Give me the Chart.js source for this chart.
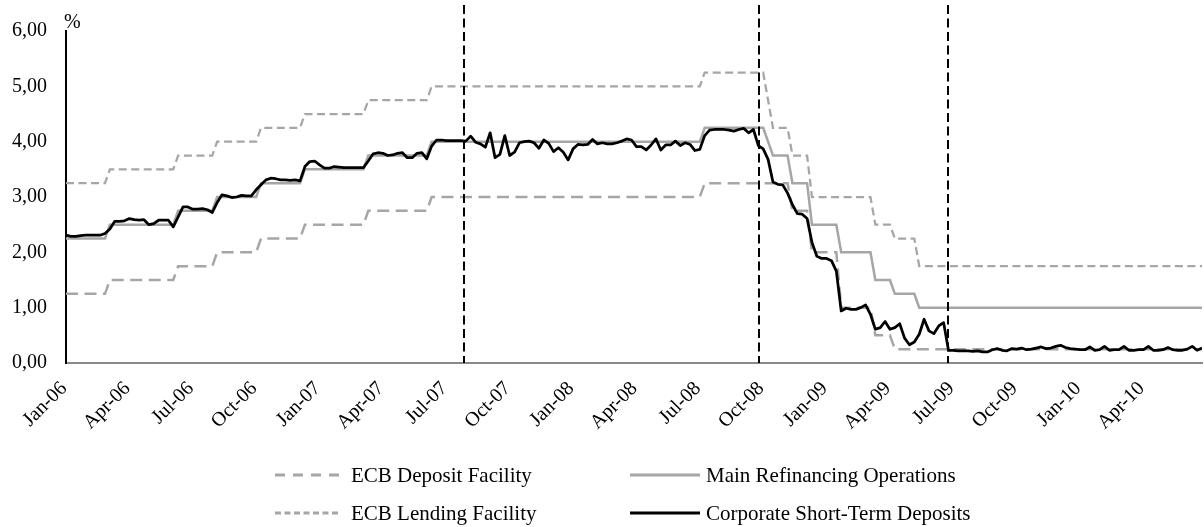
<!DOCTYPE html>
<html>
<head>
<meta charset="utf-8">
<script src="https://cdn.jsdelivr.net/npm/chart.js@4.4.1/dist/chart.umd.min.js"></script>
<style>
html,body{margin:0;padding:0;background:#fff;}
#wrap{position:relative;width:1204px;height:527px;overflow:hidden;}
#c{position:absolute;left:0;top:0;}
.lbl{position:absolute;font-family:"Liberation Serif","Times New Roman",serif;color:#000;white-space:nowrap;}
#legendSvg{position:absolute;left:0;top:440px;}
</style>
</head>
<body>
<div id="wrap">
  <canvas id="c" width="1204" height="527"></canvas>
  <div class="lbl" id="unit" style="left:64px;top:11px;font-size:20px;line-height:20px;">%</div>
  <svg id="legendSvg" width="1204" height="87"></svg>
  <div id="legendText"></div>
</div>
<script>
// ---------- DATA ----------
const tickLabels = ["Jan-06","Apr-06","Jul-06","Oct-06","Jan-07","Apr-07","Jul-07","Oct-07","Jan-08","Apr-08","Jul-08","Oct-08","Jan-09","Apr-09","Jul-09","Oct-09","Jan-10","Apr-10"];
const tickWeeks  = [0,13,26,39,52,65,78,91,104,117,130,143,156,169,182,195,208,221];
const yTicks = [0,1,2,3,4,5,6];

const seriesNames = ["ECB Deposit Facility","Main Refinancing Operations","ECB Lending Facility","Corporate Short-Term Deposits"];

// ECB Deposit Facility (week index of each vertex, rate)
const depositWeeks = [0,8,9,22,23,30,31,39,40,48,49,61,62,74,75,130,131,148,149,152,153,158,159,165,166,169,170,233];
const depositRates = [1.25,1.25,1.50,1.50,1.75,1.75,2.00,2.00,2.25,2.25,2.50,2.50,2.75,2.75,3.00,3.00,3.25,3.25,2.75,2.75,2.00,2.00,1.00,1.00,0.50,0.50,0.25,0.25];

// Main Refinancing Operations
const mroWeeks = [0,8,9,22,23,30,31,39,40,48,49,61,62,74,75,130,131,143,144,145,148,149,152,153,158,159,165,166,169,170,174,175,233];
const mroRates = [2.25,2.25,2.50,2.50,2.75,2.75,3.00,3.00,3.25,3.25,3.50,3.50,3.75,3.75,4.00,4.00,4.25,4.25,4.00,3.75,3.75,3.25,3.25,2.50,2.50,2.00,2.00,1.50,1.50,1.25,1.25,1.00,1.00];

// ECB Lending Facility
const lendingWeeks = [0,8,9,22,23,30,31,39,40,48,49,61,62,74,75,130,131,143,144,145,148,149,152,153,165,166,169,170,174,175,233];
const lendingRates = [3.25,3.25,3.50,3.50,3.75,3.75,4.00,4.00,4.25,4.25,4.50,4.50,4.75,4.75,5.00,5.00,5.25,5.25,4.75,4.25,4.25,3.75,3.75,3.00,3.00,2.50,2.50,2.25,2.25,1.75,1.75];

// Corporate Short-Term Deposits (weekly, from week 0 = first week of Jan-06)
const corporate = [
 2.31,2.29,2.29,2.30,2.31,2.31,2.31,2.31,2.34,2.42,
 2.56,2.56,2.57,2.61,2.59,2.58,2.59,2.50,2.52,2.58,
 2.58,2.58,2.46,2.64,2.82,2.82,2.78,2.78,2.79,2.77,
 2.72,2.90,3.04,3.02,2.99,3.00,3.03,3.02,3.02,3.13,
 3.22,3.31,3.34,3.33,3.31,3.31,3.30,3.31,3.29,3.55,
 3.64,3.65,3.58,3.52,3.52,3.55,3.54,3.53,3.53,3.53,
 3.53,3.53,3.65,3.78,3.80,3.79,3.75,3.76,3.79,3.80,
 3.71,3.71,3.79,3.80,3.69,3.92,4.03,4.03,4.02,4.02,
 4.02,4.02,4.01,4.10,3.99,3.96,3.90,4.16,3.71,3.77,
 4.11,3.75,3.81,3.98,4.00,4.01,3.98,3.88,4.03,3.97,
 3.82,3.89,3.81,3.67,3.87,3.95,3.94,3.95,4.04,3.96,
 3.98,3.96,3.96,3.98,4.01,4.05,4.03,3.91,3.91,3.85,
 3.94,4.05,3.85,3.94,3.94,4.01,3.93,3.98,3.95,3.84,
 3.86,4.11,4.21,4.22,4.22,4.22,4.21,4.19,4.22,4.24,
 4.16,4.22,3.93,3.87,3.68,3.27,3.23,3.22,3.07,2.86,
 2.70,2.69,2.61,2.18,1.93,1.89,1.89,1.85,1.66,0.94,
 0.99,0.97,0.97,1.00,1.05,0.88,0.61,0.64,0.75,0.61,
 0.64,0.71,0.45,0.33,0.38,0.52,0.79,0.58,0.53,0.67,
 0.73,0.23,0.23,0.22,0.22,0.22,0.21,0.22,0.20,0.20,
 0.24,0.26,0.23,0.22,0.26,0.25,0.27,0.24,0.25,0.27,
 0.29,0.26,0.27,0.30,0.32,0.28,0.26,0.25,0.24,0.24,
 0.29,0.23,0.24,0.30,0.23,0.24,0.24,0.30,0.23,0.23,
 0.24,0.24,0.30,0.23,0.23,0.24,0.28,0.24,0.23,0.23,
 0.25,0.30,0.23,0.27
];

// Event markers (week positions of the vertical dashed lines)
const eventWeeks = [81.6, 142.2, 180.9];

// ---------- BUILD ----------
const pts = (xs, ys) => xs.map((x, i) => ({x: x, y: ys[i]}));
const corpPts = corporate.map((v, i) => ({x: i, y: v}));

const GRAY = '#A6A6A6';
const FONT = "'Liberation Serif','Times New Roman',serif";

const eventLinesPlugin = {
  id: 'eventLines',
  afterDatasetsDraw(chart) {
    const {ctx, chartArea, scales} = chart;
    ctx.save();
    ctx.strokeStyle = '#000';
    ctx.lineWidth = 2;
    ctx.setLineDash([9, 4.5]);
    eventWeeks.forEach(w => {
      const px = Math.round(scales.x.getPixelForValue(w));
      ctx.beginPath();
      ctx.moveTo(px, 5);
      ctx.lineTo(px, chartArea.bottom);
      ctx.stroke();
    });
    ctx.restore();
  }
};

new Chart(document.getElementById('c').getContext('2d'), {
  type: 'line',
  data: {
    datasets: [
      {label: seriesNames[3], data: corpPts, borderColor: '#000', borderWidth: 2.75, order: 0, borderJoinStyle: 'round'},
      {label: seriesNames[1], data: pts(mroWeeks, mroRates), borderColor: GRAY, borderWidth: 2.5, order: 1},
      {label: seriesNames[0], data: pts(depositWeeks, depositRates), borderColor: GRAY, borderWidth: 2.5, borderDash: [12, 6.5], order: 2},
      {label: seriesNames[2], data: pts(lendingWeeks, lendingRates), borderColor: GRAY, borderWidth: 2.25, borderDash: [8, 4.5], order: 3}
    ]
  },
  options: {
    responsive: false,
    animation: false,
    devicePixelRatio: 1,
    layout: {padding: {left: 0, right: 2, top: 27, bottom: 64}},
    plugins: {legend: {display: false}, tooltip: {enabled: false}},
    elements: {point: {radius: 0}, line: {tension: 0, fill: false}},
    scales: {
      x: {
        type: 'linear', min: 0, max: 233,
        grid: {display: false, drawTicks: false},
        border: {display: true, color: '#898989', width: 2},
        afterBuildTicks: s => { s.ticks = tickWeeks.map(v => ({value: v})); },
        afterFit: s => { s.height = 100; },
        ticks: {
          autoSkip: false, minRotation: 45, maxRotation: 45, padding: 14, labelOffset: -2,
          color: '#000', font: {family: FONT, size: 20},
          callback: v => { const k = tickWeeks.indexOf(v); return k >= 0 ? tickLabels[k] : ''; }
        }
      },
      y: {
        min: 0, max: 6,
        grid: {display: false, drawTicks: false},
        border: {display: true, color: '#000', width: 2},
        afterBuildTicks: s => { s.ticks = yTicks.map(v => ({value: v})); },
        afterFit: s => { s.width = 66; },
        ticks: {
          padding: 19, color: '#000', font: {family: FONT, size: 20},
          callback: v => Number(v).toFixed(2).replace('.', ',')
        }
      }
    }
  },
  plugins: [eventLinesPlugin]
});

// ---------- LEGEND (HTML / SVG) ----------
const legendLayout = [
  {name: seriesNames[0], x1: 275, x2: 341, tx: 351, cy: 35, color: GRAY, dash: '10 8'},
  {name: seriesNames[1], x1: 630, x2: 700, tx: 706, cy: 35, color: GRAY, dash: ''},
  {name: seriesNames[2], x1: 275, x2: 341, tx: 351, cy: 73, color: GRAY, dash: '6 3.5'},
  {name: seriesNames[3], x1: 630, x2: 700, tx: 706, cy: 73, color: '#000', dash: ''}
];
const svg = document.getElementById('legendSvg');
const lt = document.getElementById('legendText');
legendLayout.forEach(it => {
  const ln = document.createElementNS('http://www.w3.org/2000/svg', 'line');
  ln.setAttribute('x1', it.x1); ln.setAttribute('x2', it.x2);
  ln.setAttribute('y1', it.cy); ln.setAttribute('y2', it.cy);
  ln.setAttribute('stroke', it.color); ln.setAttribute('stroke-width', 3);
  if (it.dash) ln.setAttribute('stroke-dasharray', it.dash);
  svg.appendChild(ln);
  const d = document.createElement('div');
  d.className = 'lbl';
  d.style.left = it.tx + 'px';
  d.style.top = (440 + it.cy - 10) + 'px';
  d.style.fontSize = '21px';
  d.style.lineHeight = '21px';
  d.textContent = it.name;
  lt.appendChild(d);
});
</script>
</body>
</html>
